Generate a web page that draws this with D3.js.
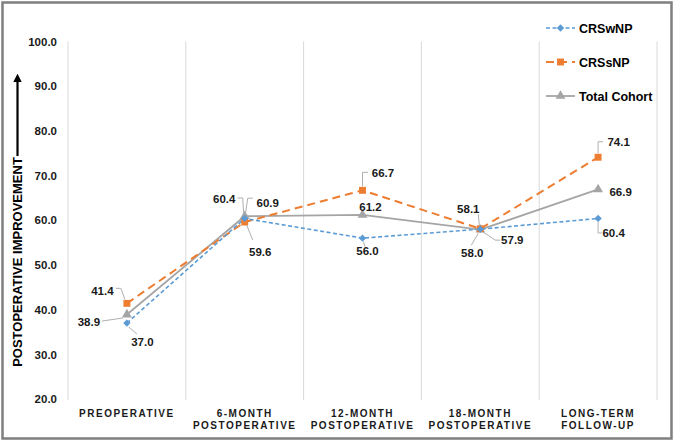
<!DOCTYPE html>
<html><head><meta charset="utf-8">
<script src="https://cdn.jsdelivr.net/npm/d3@7/dist/d3.min.js"></script>
<style>
html,body{margin:0;padding:0;background:#fff;}
svg{display:block;font-family:Arial,"Liberation Sans",sans-serif;}
</style></head>
<body>
<svg id="chart" width="675" height="441"></svg>
<script>
const categories = [["PREOPERATIVE"],["6-MONTH","POSTOPERATIVE"],["12-MONTH","POSTOPERATIVE"],["18-MONTH","POSTOPERATIVE"],["LONG-TERM","FOLLOW-UP"]];
const crswnp = [37.0, 60.4, 56.0, 58.0, 60.4];
const crssnp = [41.4, 59.6, 66.7, 58.1, 74.1];
const total  = [38.9, 60.9, 61.2, 57.9, 66.9];
const seriesNames = ["CRSwNP","CRSsNP","Total Cohort"];
const yTicks = [20,30,40,50,60,70,80,90,100];

// label placement (offsets from marker) and leader lines, per series per category
const labelPos = {
  CRSwNP: [{dx:15.5,dy:19,l:[[2,4],[10,11]]},{dx:-20.5,dy:-19.5,l:[[-7,-20.5],[-2,-20.5],[-1,-5.5]]},{dx:5,dy:13,l:[[1,3.5],[2.5,8.5]]},{dx:-8,dy:24,l:[[-2,4],[-9,16]]},{dx:15.5,dy:14.5,l:[[0,3.5],[0,14.5],[4,14.5]]}],
  CRSsNP: [{dx:-24.5,dy:-13,l:[[-11,-15],[-6,-15],[-2,-4]]},{dx:15.5,dy:30,l:[[2,3],[8,18]]},{dx:20.5,dy:-17,l:[[0,-4],[0,-18],[5.5,-18]]},{dx:-12,dy:-20,l:[[-2,-14.5],[-1,-3.5]]},{dx:20.5,dy:-15.5,l:[[0,-4],[0,-15.5],[5,-15.5]]}],
  "Total Cohort": [{dx:-38,dy:7.5,l:[[-25,6.5],[-4,3.5]]},{dx:23,dy:-13,l:[[1,-4],[3,-18],[8,-18]]},{dx:8,dy:-8,l:null},{dx:32,dy:10.5,l:[[3,2.5],[15,10.5],[20,10.5]]},{dx:22.5,dy:2.5,l:null}]
};

const svg = d3.select("#chart");
const x = d3.scaleBand().domain(d3.range(categories.length)).range([68,657]).padding(0);
const y = d3.scaleLinear().domain([20,100]).range([399,41.5]);
const cx = i => x(i) + x.bandwidth()/2;

// frame
svg.append("rect").attr("x",2.5).attr("y",2.5).attr("width",669).attr("height",436)
  .attr("fill","#fff").attr("stroke","#7f7f7f").attr("stroke-width",2.5);

// vertical gridlines at band boundaries
const bounds = d3.range(categories.length).map(i=>x(i)).concat([x(categories.length-1)+x.bandwidth()]);
svg.append("g").selectAll("line").data(bounds).join("line")
  .attr("x1",d=>d).attr("x2",d=>d).attr("y1",y(100)).attr("y2",y(20)+1)
  .attr("stroke","#d9d9d9").attr("stroke-width",1);

// y axis
const yAxis = d3.axisLeft(y).tickValues(yTicks).tickFormat(d3.format(".1f")).tickSize(0).tickPadding(0);
const gy = svg.append("g").attr("transform","translate(57,0)").call(yAxis);
gy.select(".domain").remove();
gy.selectAll("text").attr("font-size","11.5px").attr("font-weight","bold").attr("fill","#1a1a1a")
  .attr("font-family","Arial,'Liberation Sans',sans-serif");

// x axis labels
const xl = svg.append("g").selectAll("text").data(categories).join("text")
  .attr("x",(d,i)=>cx(i)).attr("y",416.5).attr("text-anchor","middle")
  .attr("font-size","10px").attr("font-weight","bold").attr("fill","#1a1a1a")
  .attr("letter-spacing","1.5px");
xl.each(function(d){
  const t=d3.select(this);
  d.forEach((s,k)=>t.append("tspan").attr("x",t.attr("x")).attr("dy",k===0?0:12.3).text(s));
});

// y title with arrow
svg.append("text").attr("transform","translate(22,262) rotate(-90)").attr("text-anchor","middle")
  .attr("font-size","13px").attr("font-weight","bold").attr("fill","#000").text("POSTOPERATIVE IMPROVEMENT");
svg.append("defs").append("marker").attr("id","ah").attr("viewBox","0 0 10 10").attr("refX",5).attr("refY",5)
  .attr("markerWidth",4).attr("markerHeight",4).attr("orient","auto")
  .append("path").attr("d","M0,0L10,5L0,10z").attr("fill","#000");
svg.append("line").attr("x1",17.5).attr("x2",17.5).attr("y1",156).attr("y2",78)
  .attr("stroke","#000").attr("stroke-width",2.2).attr("marker-end","url(#ah)");

const series = [
  {name:"CRSwNP", values:crswnp, color:"#5b9bd5", dash:"4,2.5", width:1.6, sym:d3.symbolDiamond2, size:34},
  {name:"CRSsNP", values:crssnp, color:"#ed7d31", dash:"8,5", width:2, sym:d3.symbolSquare, size:48},
  {name:"Total Cohort", values:total, color:"#a5a5a5", dash:null, width:1.8, sym:d3.symbolTriangle, size:42}
];
const line = d3.line().x((d,i)=>cx(i)).y(d=>y(d));

// draw in order: total, crssnp, crswnp
const order = [series[2], series[1], series[0]];
order.forEach(s=>{
  svg.append("path").datum(s.values).attr("d",line).attr("fill","none")
    .attr("stroke",s.color).attr("stroke-width",s.width).attr("stroke-dasharray",s.dash);
});
order.forEach(s=>{
  svg.append("g").selectAll("path").data(s.values).join("path")
    .attr("transform",(d,i)=>`translate(${cx(i)},${y(d)})`)
    .attr("d",d3.symbol().type(s.sym).size(s.size)).attr("fill",s.color);
});

// data labels and leaders
series.forEach(s=>{
  s.values.forEach((v,i)=>{
    const p = labelPos[s.name][i];
    const mx=cx(i), my=y(v);
    if(p.l){
      svg.append("path").attr("d",d3.line()(p.l.map(q=>[mx+q[0],my+q[1]])))
        .attr("fill","none").attr("stroke","#a6a6a6").attr("stroke-width",0.9);
    }
    svg.append("text").attr("x",mx+p.dx).attr("y",my+p.dy).attr("dy","0.36em")
      .attr("text-anchor","middle").attr("font-size","11.5px").attr("font-weight","bold")
      .attr("fill","#1a1a1a").text(d3.format(".1f")(v));
  });
});

// legend
const lg = svg.append("g");
series.forEach((s,k)=>{
  const ly = 28 + k*34;
  lg.append("line").attr("x1",546).attr("x2",575).attr("y1",ly).attr("y2",ly)
    .attr("stroke",s.color).attr("stroke-width",s.width).attr("stroke-dasharray",s.dash);
  lg.append("path").attr("transform",`translate(560.5,${ly})`).attr("d",d3.symbol().type(s.sym).size(s.size)).attr("fill",s.color);
  lg.append("text").attr("x",579).attr("y",ly).attr("dy","0.36em").attr("font-size","12.5px")
    .attr("font-weight","bold").attr("fill","#000").text(s.name);
});
</script>
</body></html>
